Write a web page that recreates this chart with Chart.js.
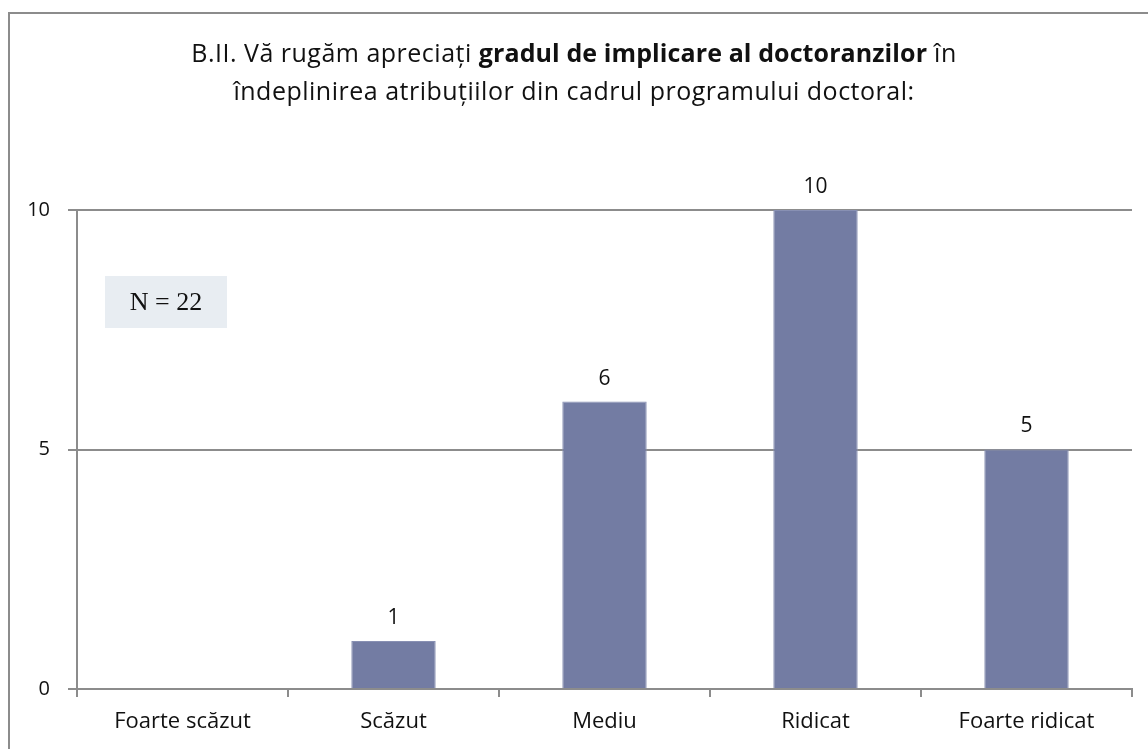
<!DOCTYPE html>
<html>
<head>
<meta charset="utf-8">
<script src="https://cdn.jsdelivr.net/npm/chart.js@4.4.1/dist/chart.umd.min.js"></script>
<style>
  html, body { margin: 0; padding: 0; background: #fff; }
  #wrap { position: relative; width: 1148px; height: 749px; overflow: hidden; }
  #frame { position: absolute; left: 8px; top: 12px; width: 1200px; height: 800px;
           border-left: 2px solid #8c8c8c; border-top: 2px solid #8c8c8c; box-sizing: border-box; }
  #title { position: absolute; left: 0; top: 33px; width: 1148px; text-align: center;
           font-family: "Open Sans", Lato, sans-serif; font-size: 25px; letter-spacing: 0.5px; line-height: 38px; color: #111; }
  #title b { font-weight: bold; letter-spacing: 0.1px; }
  canvas { position: absolute; left: 0; top: 0; }
</style>
</head>
<body>
<div id="wrap">
  <div id="frame"></div>
  <canvas id="c" width="1148" height="749"></canvas>
  <div id="title">B.II. Vă rugăm apreciați <b>gradul de implicare al doctoranzilor</b> în<br>îndeplinirea atribuțiilor din cadrul programului doctoral:</div>
</div>
<script>
const categories = ["Foarte scăzut", "Scăzut", "Mediu", "Ridicat", "Foarte ridicat"];
const values = [0, 1, 6, 10, 5];
const yTicks = [0, 5, 10];
const noteText = "N = 22";

const axisGray = '#8c8c8c';

const dataLabels = {
  id: 'dataLabels',
  afterDatasetsDraw(chart) {
    const ctx = chart.ctx;
    const meta = chart.getDatasetMeta(0);
    ctx.save();
    ctx.font = '21px "Open Sans", sans-serif';
    ctx.fillStyle = '#111';
    ctx.textAlign = 'center';
    ctx.textBaseline = 'middle';
    meta.data.forEach((el, i) => {
      const v = values[i];
      if (v === 0) return;
      ctx.fillText(String(v), el.x, el.y - 23);
    });
    ctx.restore();
  }
};

const noteBox = {
  id: 'noteBox',
  afterDraw(chart) {
    const a = chart.chartArea;
    const ctx = chart.ctx;
    const x = a.left + 28, y = a.top + 66, w = 122, h = 52;
    ctx.save();
    ctx.fillStyle = '#e8edf2';
    ctx.fillRect(x, y, w, h);
    ctx.font = '26px "Liberation Serif", "DejaVu Serif", serif';
    ctx.fillStyle = '#111';
    ctx.textAlign = 'center';
    ctx.textBaseline = 'middle';
    ctx.fillText(noteText, x + w / 2, y + h / 2 + 1);
    ctx.restore();
  }
};

new Chart(document.getElementById('c'), {
  type: 'bar',
  data: {
    labels: categories,
    datasets: [{
      data: values,
      backgroundColor: '#737ca3',
      borderColor: '#8890b3',
      borderWidth: 1,
      categoryPercentage: 1.0,
      barPercentage: 0.4
    }]
  },
  options: {
    responsive: false,
    animation: false,
    events: [],
    layout: { padding: { left: 0, right: 16, top: 210, bottom: 0 } },
    plugins: { legend: { display: false }, tooltip: { enabled: false }, title: { display: false } },
    scales: {
      x: {
        offset: true,
        grid: { display: true, offset: true, drawOnChartArea: false, drawTicks: true, tickLength: 8, color: axisGray, lineWidth: 2 },
        border: { display: true, color: axisGray, width: 2 },
        ticks: { color: '#111', font: { family: '"Open Sans", sans-serif', size: 22 }, padding: 12, maxRotation: 0 },
        afterFit(scale) { scale.height = 60; }
      },
      y: {
        min: 0, max: 10,
        afterBuildTicks(scale) { scale.ticks = yTicks.map(v => ({ value: v })); },
        grid: { display: true, drawTicks: true, tickLength: 9, color: axisGray, lineWidth: 2 },
        border: { display: true, color: axisGray, width: 2 },
        ticks: { color: '#111', font: { family: '"Open Sans", sans-serif', size: 20 }, padding: 18 },
        afterFit(scale) { scale.width = 77; }
      }
    }
  },
  plugins: [dataLabels, noteBox]
});
</script>
</body>
</html>
